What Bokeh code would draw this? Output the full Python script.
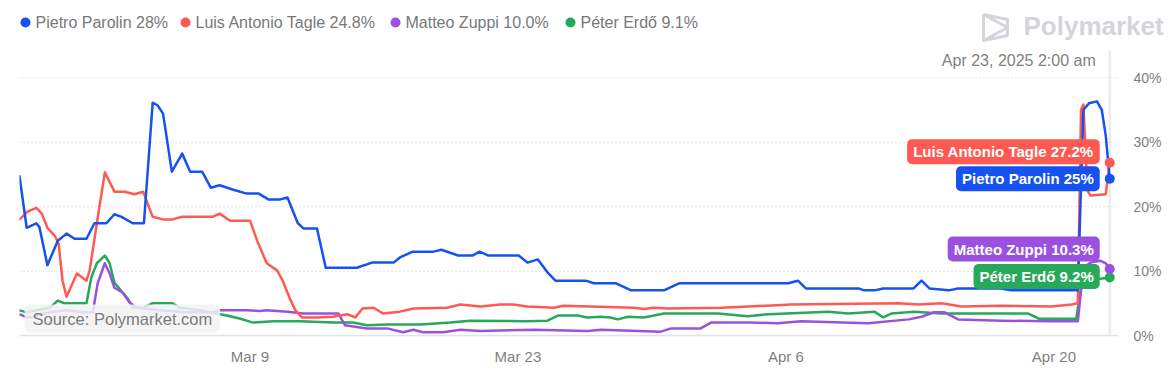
import pandas as pd
from bokeh.plotting import figure
from bokeh.layouts import column
from bokeh.models import Range1d, FixedTicker, PrintfTickFormatter, DatetimeTickFormatter, Span, Label
from bokeh.core.properties import value
from bokeh.embed import file_html
from bokeh.resources import INLINE

FONT = "Liberation Sans"

# ---------------- data ----------------
names = ["Pietro Parolin", "Luis Antonio Tagle", "Matteo Zuppi", "Péter Erdő"]
legend_pct = ["28%", "24.8%", "10.0%", "9.1%"]
callout_pct = ["25%", "27.2%", "10.3%", "9.2%"]
colors = ["#1652F0", "#FF5A52", "#9B51E0", "#27A85A"]

x_tick_dates = ["2025-03-09", "2025-03-23", "2025-04-06", "2025-04-20"]
x_tick_labels = ["Mar 9", "Mar 23", "Apr 6", "Apr 20"]
y_ticks = [0, 10, 20, 30, 40]
y_grid_ticks = [10, 20, 30, 40]

hover_time = "2025-04-22 22:00"
hover_label = "Apr 23, 2025 2:00 am"
source_text = "Source: Polymarket.com"
brand = "Polymarket"

parolin_t = ["2025-02-24 23:00", "2025-02-25 08:00", "2025-02-25 20:00", "2025-02-26 00:00", "2025-02-26 10:00",
             "2025-02-26 23:00", "2025-02-27 10:00", "2025-02-27 20:00", "2025-02-28 11:00", "2025-02-28 21:00",
             "2025-03-01 12:00", "2025-03-01 22:00", "2025-03-02 07:00", "2025-03-02 21:00", "2025-03-03 11:00",
             "2025-03-03 22:00", "2025-03-04 04:00", "2025-03-04 11:00", "2025-03-04 22:00", "2025-03-05 11:00",
             "2025-03-05 21:00", "2025-03-06 12:00", "2025-03-06 23:00", "2025-03-07 10:00", "2025-03-08 03:00",
             "2025-03-08 20:00", "2025-03-09 11:00", "2025-03-09 23:00", "2025-03-10 14:00", "2025-03-10 23:00",
             "2025-03-11 12:00", "2025-03-11 19:00", "2025-03-12 12:00", "2025-03-12 23:00", "2025-03-14 14:00",
             "2025-03-15 09:00", "2025-03-16 12:00", "2025-03-16 20:00", "2025-03-17 12:00", "2025-03-18 14:00",
             "2025-03-19 00:00", "2025-03-19 21:00", "2025-03-20 15:00", "2025-03-21 00:00", "2025-03-21 11:00",
             "2025-03-23 01:00", "2025-03-23 12:00", "2025-03-24 01:00", "2025-03-24 13:00", "2025-03-24 23:00",
             "2025-03-26 13:00", "2025-03-26 23:00", "2025-03-28 03:00", "2025-03-28 22:00", "2025-03-30 15:00",
             "2025-03-31 10:00", "2025-04-06 03:00", "2025-04-06 15:00", "2025-04-07 01:00", "2025-04-09 19:00",
             "2025-04-10 02:00", "2025-04-10 15:00", "2025-04-11 02:00", "2025-04-12 16:00", "2025-04-13 02:00",
             "2025-04-13 12:00", "2025-04-14 12:00", "2025-04-15 00:00", "2025-04-17 06:00", "2025-04-17 18:00",
             "2025-04-21 06:00", "2025-04-21 13:00", "2025-04-21 20:00", "2025-04-22 06:00", "2025-04-22 12:00",
             "2025-04-22 17:00", "2025-04-22 22:00"]
parolin_v = [24.7, 16.7, 17.4, 16.8, 10.9,
             14.7, 15.8, 15.0, 15.0, 17.4,
             17.4, 18.8, 18.4, 17.4, 17.4,
             36.1, 35.7, 34.4, 25.4, 28.2,
             25.4, 25.4, 22.9, 23.3, 22.6,
             22.0, 22.0, 21.1, 21.1, 21.4,
             17.4, 16.6, 16.6, 10.5, 10.5,
             11.3, 11.3, 12.1, 13.0, 13.0,
             13.3, 12.4, 12.4, 13.0, 12.4,
             12.4, 11.3, 11.8, 9.8, 8.5,
             8.5, 8.1, 8.1, 7.0, 7.0,
             8.1, 8.1, 8.5, 7.3, 7.3,
             7.0, 7.0, 7.3, 7.3, 8.5,
             7.3, 7.0, 7.3, 7.3, 7.0,
             7.0, 35.0, 36.0, 36.3, 35.0,
             31.0, 24.3]

tagle_t = ["2025-02-24 23:00", "2025-02-25 09:00", "2025-02-25 20:00", "2025-02-26 03:00", "2025-02-26 10:00",
           "2025-02-26 19:00", "2025-02-27 00:00", "2025-02-27 05:00", "2025-02-27 10:00", "2025-02-27 23:00",
           "2025-02-28 11:00", "2025-02-28 15:00", "2025-03-01 00:00", "2025-03-01 10:00", "2025-03-01 22:00",
           "2025-03-02 11:00", "2025-03-02 23:00", "2025-03-03 10:00", "2025-03-03 22:00", "2025-03-04 11:00",
           "2025-03-04 23:00", "2025-03-05 11:00", "2025-03-07 01:00", "2025-03-07 10:00", "2025-03-07 23:00",
           "2025-03-09 00:00", "2025-03-09 09:00", "2025-03-09 21:00", "2025-03-10 10:00", "2025-03-10 17:00",
           "2025-03-11 02:00", "2025-03-11 09:00", "2025-03-11 17:00", "2025-03-12 12:00", "2025-03-13 08:00",
           "2025-03-14 02:00", "2025-03-14 12:00", "2025-03-14 21:00", "2025-03-15 11:00", "2025-03-15 23:00",
           "2025-03-16 20:00", "2025-03-17 13:00", "2025-03-19 07:00", "2025-03-20 00:00", "2025-03-21 01:00",
           "2025-03-22 02:00", "2025-03-22 18:00", "2025-03-23 12:00", "2025-03-24 21:00", "2025-03-25 09:00",
           "2025-03-29 01:00", "2025-03-29 14:00", "2025-03-30 02:00", "2025-03-30 20:00", "2025-04-02 15:00",
           "2025-04-06 06:00", "2025-04-11 21:00", "2025-04-12 22:00", "2025-04-14 03:00", "2025-04-15 04:00",
           "2025-04-17 06:00", "2025-04-19 21:00", "2025-04-20 22:00", "2025-04-21 06:00", "2025-04-21 10:00",
           "2025-04-21 13:00", "2025-04-21 18:00", "2025-04-21 22:00", "2025-04-22 17:00", "2025-04-22 22:00"]
tagle_v = [18.0, 19.2, 19.8, 18.9, 16.7,
           15.5, 14.3, 8.5, 6.0, 9.6,
           8.5, 10.1, 17.4, 25.3, 22.3,
           22.3, 21.9, 22.3, 18.4, 18.0,
           18.0, 18.4, 18.4, 18.9, 17.8,
           17.8, 14.7, 11.2, 10.1, 8.5,
           5.7, 3.9, 2.8, 2.8, 2.9,
           3.3, 2.8, 4.2, 4.3, 3.4,
           3.7, 4.2, 4.3, 4.8, 4.5,
           4.8, 4.8, 4.5, 4.3, 4.6,
           4.3, 4.1, 4.3, 4.2, 4.3,
           4.8, 5.0, 4.8, 5.0, 4.5,
           4.6, 4.5, 4.8, 5.0, 35.0,
           35.8, 22.5, 21.7, 21.9, 26.8]

zuppi_t = ["2025-02-24 23:00", "2025-02-25 08:00", "2025-02-25 15:00", "2025-02-26 13:00", "2025-02-27 10:00",
           "2025-02-28 06:00", "2025-02-28 19:00", "2025-03-01 01:00", "2025-03-01 10:00", "2025-03-01 16:00",
           "2025-03-01 22:00", "2025-03-02 08:00", "2025-03-02 17:00", "2025-03-03 02:00", "2025-03-04 07:00",
           "2025-03-05 17:00", "2025-03-07 01:00", "2025-03-07 10:00", "2025-03-08 20:00", "2025-03-09 13:00",
           "2025-03-09 21:00", "2025-03-10 23:00", "2025-03-11 19:00", "2025-03-13 15:00", "2025-03-13 23:00",
           "2025-03-15 03:00", "2025-03-16 04:00", "2025-03-17 00:00", "2025-03-17 13:00", "2025-03-18 01:00",
           "2025-03-19 02:00", "2025-03-20 00:00", "2025-03-21 01:00", "2025-03-23 20:00", "2025-03-26 15:00",
           "2025-03-27 08:00", "2025-03-30 11:00", "2025-03-31 00:00", "2025-04-01 13:00", "2025-04-02 02:00",
           "2025-04-04 04:00", "2025-04-05 14:00", "2025-04-06 19:00", "2025-04-10 07:00", "2025-04-12 10:00",
           "2025-04-13 02:00", "2025-04-13 18:00", "2025-04-14 07:00", "2025-04-15 00:00", "2025-04-17 06:00",
           "2025-04-19 18:00", "2025-04-21 06:00", "2025-04-21 13:00", "2025-04-21 22:00", "2025-04-22 10:00",
           "2025-04-22 17:00", "2025-04-22 22:00"]
zuppi_v = [3.3, 2.8, 2.9, 3.6, 3.9,
           3.6, 3.6, 8.1, 11.2, 9.6,
           7.4, 6.7, 5.1, 4.3, 3.9,
           3.6, 3.6, 3.9, 3.9, 3.8,
           3.9, 3.7, 3.4, 3.4, 1.6,
           1.1, 1.1, 0.5, 0.9, 0.5,
           0.5, 0.9, 0.7, 0.9, 0.7,
           0.9, 0.6, 1.1, 1.1, 2.0,
           2.0, 1.9, 2.2, 1.9, 2.5,
           2.9, 3.6, 3.6, 2.5, 2.3,
           2.2, 2.2, 10.5, 11.3, 11.6,
           11.2, 10.3]

erdo_t = ["2025-02-24 23:00", "2025-02-25 08:00", "2025-02-26 13:00", "2025-02-26 23:00", "2025-02-27 07:00",
          "2025-02-28 11:00", "2025-02-28 17:00", "2025-03-01 00:00", "2025-03-01 10:00", "2025-03-01 16:00",
          "2025-03-01 22:00", "2025-03-02 08:00", "2025-03-02 15:00", "2025-03-02 21:00", "2025-03-03 10:00",
          "2025-03-03 22:00", "2025-03-04 23:00", "2025-03-05 08:00", "2025-03-06 09:00", "2025-03-07 19:00",
          "2025-03-08 12:00", "2025-03-09 04:00", "2025-03-10 05:00", "2025-03-11 15:00", "2025-03-13 08:00",
          "2025-03-14 09:00", "2025-03-15 03:00", "2025-03-16 04:00", "2025-03-17 22:00", "2025-03-19 11:00",
          "2025-03-20 12:00", "2025-03-23 12:00", "2025-03-24 13:00", "2025-03-25 02:00", "2025-03-26 03:00",
          "2025-03-26 15:00", "2025-03-27 08:00", "2025-03-27 20:00", "2025-03-28 05:00", "2025-03-28 18:00",
          "2025-03-29 14:00", "2025-03-30 15:00", "2025-04-02 11:00", "2025-04-04 00:00", "2025-04-05 02:00",
          "2025-04-08 05:00", "2025-04-09 06:00", "2025-04-10 15:00", "2025-04-11 02:00", "2025-04-11 12:00",
          "2025-04-12 17:00", "2025-04-14 03:00", "2025-04-18 16:00", "2025-04-19 05:00", "2025-04-21 04:00",
          "2025-04-21 12:00", "2025-04-22 10:00", "2025-04-22 22:00"]
erdo_v = [3.9, 3.6, 4.3, 5.4, 5.0,
          5.0, 9.0, 11.2, 12.4, 11.2,
          8.2, 6.7, 5.7, 4.3, 4.3,
          5.0, 5.0, 4.3, 3.9, 3.1,
          2.6, 2.0, 2.2, 2.2, 2.0,
          2.0, 1.6, 1.7, 1.7, 2.0,
          2.3, 2.2, 2.3, 3.1, 3.1,
          2.8, 2.9, 2.8, 2.5, 2.9,
          2.8, 3.4, 3.4, 3.0, 3.3,
          3.7, 3.4, 3.7, 2.8, 3.4,
          3.7, 3.4, 3.4, 2.6, 2.6,
          9.0, 8.8, 9.0]

series_t = [parolin_t, tagle_t, zuppi_t, erdo_t]
series_v = [parolin_v, tagle_v, zuppi_v, erdo_v]

# ---------------- layout constants ----------------
W = 1171
HEADER_H = 50
MAIN_H = 325
BORDER_L, BORDER_R, BORDER_B = 19, 53, 40
FRAME_H = MAIN_H - BORDER_B
x_start = pd.Timestamp("2025-02-24 23:00")
x_end = pd.Timestamp("2025-04-23 09:00")
y_max = 44.19
px_per_unit = FRAME_H / y_max
GRAY = "#7f7f7f"


def ms(ts):
    return pd.Timestamp(ts).value / 1e6


# ---------------- header (pixel coordinates) ----------------
h = figure(width=W, height=HEADER_H, x_range=Range1d(0, W),
           y_range=Range1d(HEADER_H, 0), output_backend="svg", toolbar_location=None,
           min_border=0)
h.axis.visible = False
h.grid.visible = False
h.outline_line_color = None

legend_x = [25, 185, 395, 570]
legend_y = 22
for i in range(4):
    h.scatter([legend_x[i]], [legend_y], size=10, color=colors[i], line_color=None)
    h.text([legend_x[i] + 10], [legend_y], text=[f"{names[i]} {legend_pct[i]}"],
           text_font=value(FONT), text_font_size="16px", text_color="#77787b",
           text_baseline="middle", text_align="left")

# brand logo (icon + wordmark)
logo_c = "#d3d5da"
h.multi_line(xs=[[983, 1007, 1007, 983, 983], [983, 1007, 983]],
             ys=[[14, 19, 35, 40, 14], [14, 27, 40]],
             line_color=logo_c, line_width=3, line_join="round")
h.text([1023], [25], text=[brand], text_font=value(FONT), text_font_size="26px",
       text_font_style="bold", text_color=logo_c, text_baseline="middle", text_align="left")

# ---------------- main chart ----------------
p = figure(width=W, height=MAIN_H, x_axis_type="datetime",
           x_range=Range1d(x_start, x_end), y_range=Range1d(0, y_max),
           y_axis_location="right", output_backend="svg", toolbar_location=None,
           min_border_left=BORDER_L, min_border_right=BORDER_R, min_border_top=0,
           min_border_bottom=BORDER_B)
p.outline_line_color = None
p.xgrid.visible = False
p.ygrid.ticker = FixedTicker(ticks=y_grid_ticks)
p.ygrid.grid_line_color = "#cfcfcf"
p.ygrid.grid_line_dash = "1 3"
p.ygrid.grid_line_width = 1

p.yaxis.ticker = FixedTicker(ticks=y_ticks)
p.yaxis.formatter = PrintfTickFormatter(format="%d%%")
p.yaxis.axis_line_color = None
p.yaxis.major_tick_line_color = None
p.yaxis.minor_tick_line_color = None
p.yaxis.major_tick_out = 0
p.yaxis.major_tick_in = 0
p.yaxis.major_label_standoff = 15
p.yaxis.major_label_text_font = FONT
p.yaxis.major_label_text_font_size = "14px"
p.yaxis.major_label_text_color = GRAY

tick_ms = [int(ms(d)) for d in x_tick_dates]
p.xaxis.ticker = FixedTicker(ticks=tick_ms)
p.xaxis.formatter = DatetimeTickFormatter(days="%b %-d", months="%b %-d", context=None)
p.xaxis.major_label_overrides = {t: lab for t, lab in zip(tick_ms, x_tick_labels)}
p.xaxis.axis_line_color = "#e3e3e3"
p.xaxis.axis_line_width = 1.5
p.xaxis.major_tick_line_color = None
p.xaxis.minor_tick_line_color = None
p.xaxis.major_tick_out = 0
p.xaxis.major_tick_in = 0
p.xaxis.major_label_standoff = 12
p.xaxis.major_label_text_font = FONT
p.xaxis.major_label_text_font_size = "15px"
p.xaxis.major_label_text_color = GRAY

p.add_layout(Span(location=ms(hover_time), dimension="height", line_color="#e8e8e8",
                  line_width=2, level="underlay"))

for i in [3, 2, 1, 0]:
    p.line(pd.to_datetime(series_t[i]), series_v[i], line_color=colors[i], line_width=2.5,
           line_join="round", line_cap="round")
for i in [3, 2, 1, 0]:
    p.scatter([pd.Timestamp(series_t[i][-1])], [series_v[i][-1]], size=10,
              color=colors[i], line_color=None)

# hover time label
p.add_layout(Label(x=ms(hover_time), y=(FRAME_H - 10) / px_per_unit, x_offset=-14,
                   text=hover_label, text_align="right", text_baseline="middle",
                   text_font=FONT, text_font_size="16px", text_color=GRAY))

# end callouts (screen offsets from the end points to avoid overlap)
callout_offsets = [0, 11, 20, 1]
for i in range(4):
    yv = series_v[i][-1] + callout_offsets[i] / px_per_unit
    p.add_layout(Label(x=ms(series_t[i][-1]), y=yv, x_offset=-10,
                       text=f"{names[i]} {callout_pct[i]}", text_align="right",
                       text_baseline="middle", text_font=FONT, text_font_size="15px",
                       text_font_style="bold", text_color="white",
                       background_fill_color=colors[i], background_fill_alpha=1.0,
                       padding=(6, 4), border_radius=5))

# source box
p.add_layout(Label(x=ms(x_start), y=17 / px_per_unit, x_offset=5, text=source_text,
                   text_align="left", text_baseline="middle", text_font=FONT,
                   text_font_size="16.5px", text_color="#7a7a7a",
                   background_fill_color="#f2f2f2", background_fill_alpha=0.85,
                   padding=(8, 5), border_radius=6))

# nest the header in its own column so its frame is not aligned to the chart's frame
layout = column(column(h, spacing=0), p, spacing=0)
open("out.html", "w").write(file_html(layout, INLINE))
